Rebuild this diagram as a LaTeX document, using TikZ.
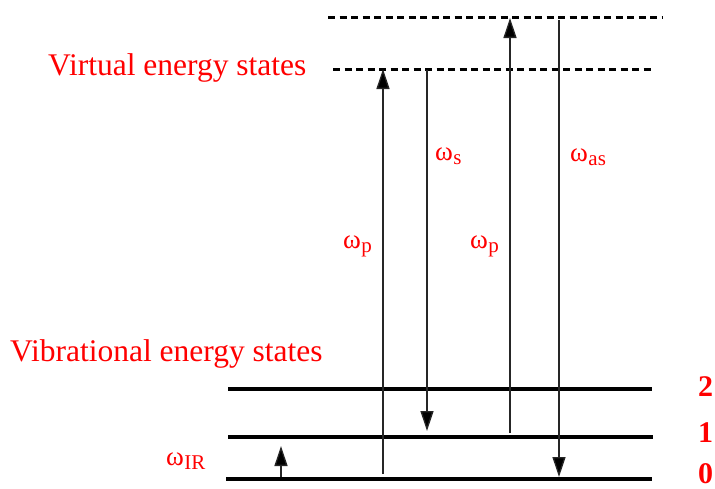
\documentclass[tikz,border=0pt]{standalone}
\usepackage{fontspec}
\setmainfont{Liberation Serif}
\usetikzlibrary{arrows.meta}
\newcommand{\omsub}[1]{{\fontsize{27pt}{27pt}\selectfont ω}\kern0.5pt\raisebox{-4.5pt}{\fontsize{21pt}{21pt}\selectfont #1}}
\begin{document}
\begin{tikzpicture}[x=1pt,y=-1pt,
  levelline/.style={line width=4pt},
  virtline/.style={line width=3pt, dash pattern=on 7pt off 4.5pt},
  trans/.style={line width=1.3pt, draw=black!85, -{Triangle[length=20pt,width=13pt,fill=black]}},
  lbl/.style={text=red, inner sep=0pt, anchor=base west},
  biglbl/.style={lbl, font=\fontsize{31.5pt}{31.5pt}\selectfont},
  num/.style={text=red, inner sep=0pt, anchor=base west, font=\fontsize{30pt}{30pt}\bfseries\selectfont}]
\useasboundingbox (0,0) rectangle (715,488);

% virtual states
\coordinate (v2L) at (328,17.5);
\coordinate (v2R) at (662,17.5);
\coordinate (v1L) at (333,69);
\coordinate (v1R) at (652,69);
\draw[virtline] (v2L) -- (v2R);
\draw[virtline] (v1L) -- (v1R);

% vibrational levels
\coordinate (l2L) at (228,389);
\coordinate (l2R) at (652,389);
\coordinate (l1L) at (228,437);
\coordinate (l1R) at (653,437);
\coordinate (l0L) at (226,478.5);
\coordinate (l0R) at (652,478.5);
\draw[levelline] (l2L) -- (l2R);
\draw[levelline] (l1L) -- (l1R);
\draw[levelline] (l0L) -- (l0R);

% transition end points
\coordinate (p1a) at (383,474);
\coordinate (p1b) at (383,69);
\coordinate (sa) at (427,70);
\coordinate (sb) at (427,431);
\coordinate (p2a) at (510,433);
\coordinate (p2b) at (510,18);
\coordinate (asa) at (559,20);
\coordinate (asb) at (559,477);
\coordinate (ira) at (281,477);
\coordinate (irb) at (281,446);

\draw[trans] (p1a) -- (p1b);
\draw[trans] (sa) -- (sb);
\draw[trans] (p2a) -- (p2b);
\draw[trans] (asa) -- (asb);
\draw[trans] (ira) -- (irb);

% labels
\node[biglbl] (virt) at (48,75) {Virtual energy states};
\node[biglbl] (vib) at (10,361) {Vibrational energy states};
\node[lbl] (wp1) at (343,248) {\omsub{p}};
\node[lbl] (wp2) at (470,248) {\omsub{p}};
\node[lbl] (ws) at (435,160) {\omsub{s}};
\node[lbl] (was) at (570,161) {\omsub{as}};
\node[lbl] (wir) at (166,465) {\omsub{IR}};
\node[num] (n2) at (698,396) {2};
\node[num] (n1) at (698,442) {1};
\node[num] (n0) at (698,483) {0};
\end{tikzpicture}
\end{document}
